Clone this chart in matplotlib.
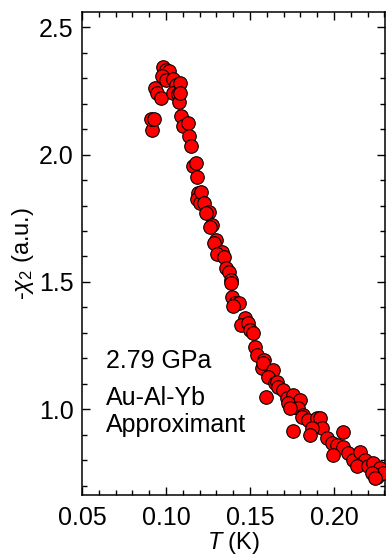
import numpy as np
import matplotlib
matplotlib.use('Agg')
import matplotlib.pyplot as plt
from matplotlib.ticker import MultipleLocator

plt.rcParams['font.family'] = ['Liberation Sans', 'DejaVu Sans']
plt.rcParams['mathtext.fontset'] = 'custom'
plt.rcParams['mathtext.rm'] = 'Liberation Sans'
plt.rcParams['mathtext.it'] = 'Liberation Sans:italic'

# temperature (K) and -chi2 (a.u.)
T = [0.0917, 0.0911, 0.0929, 0.0935, 0.0946, 0.0970, 0.0982, 0.1000, 0.1018,
     0.0976, 0.1000, 0.1042, 0.1060, 0.1042, 0.1071, 0.1077, 0.1083, 0.1083,
     0.1089, 0.1101, 0.1131, 0.1137, 0.1149, 0.1161, 0.1179, 0.1185, 0.1190,
     0.1185, 0.1202, 0.1208, 0.1226, 0.1256, 0.1238, 0.1274, 0.1262, 0.1298,
     0.1286, 0.1333, 0.1304, 0.1345, 0.1357, 0.1375, 0.1387, 0.1387, 0.1393,
     0.1411, 0.1435, 0.1399, 0.1470, 0.1446, 0.1488, 0.1500, 0.1518, 0.1530,
     0.1542, 0.1583, 0.1571, 0.1577, 0.1637, 0.1607, 0.1595, 0.1649, 0.1661,
     0.1667, 0.1696, 0.1720, 0.1756, 0.1798, 0.1726, 0.1786, 0.1738, 0.1815,
     0.1810, 0.1845, 0.1899, 0.1917, 0.1929, 0.1869, 0.1857, 0.1756, 0.2054,
     0.1958, 0.1988, 0.2018, 0.2054, 0.1994, 0.2083, 0.2113, 0.2155, 0.2173,
     0.2185, 0.2137, 0.2202, 0.2232, 0.2274, 0.2256, 0.2292, 0.2226, 0.2244]
chi2 = [2.096, 2.139, 2.139, 2.261, 2.241, 2.222, 2.343, 2.331, 2.327,
        2.308, 2.292, 2.296, 2.273, 2.241, 2.237, 2.206, 2.280, 2.241,
        2.151, 2.112, 2.124, 2.073, 2.033, 1.955, 1.967, 1.912, 1.849,
        1.825, 1.810, 1.853, 1.810, 1.775, 1.771, 1.724, 1.716, 1.665,
        1.653, 1.618, 1.610, 1.598, 1.555, 1.539, 1.508, 1.496, 1.441,
        1.418, 1.418, 1.406, 1.359, 1.331, 1.339, 1.312, 1.300, 1.245,
        1.214, 1.194, 1.163, 1.182, 1.155, 1.127, 1.049, 1.104, 1.108,
        1.088, 1.076, 1.045, 1.057, 1.037, 1.025, 1.006, 1.006, 0.978,
        0.971, 0.959, 0.967, 0.967, 0.927, 0.927, 0.900, 0.916, 0.912,
        0.888, 0.869, 0.861, 0.853, 0.822, 0.829, 0.802, 0.833, 0.794,
        0.802, 0.775, 0.775, 0.790, 0.771, 0.735, 0.751, 0.751, 0.731]

fig = plt.figure(figsize=(3.86, 5.55), dpi=100)
ax = fig.add_axes([0.2124, 0.1081, 0.785, 0.8703])

ax.scatter(T, chi2, s=95, c='#ff0000', edgecolors='black', linewidths=0.8, zorder=3)

ax.set_xlim(0.05, 0.2304)
ax.set_ylim(0.663, 2.56)
ax.xaxis.set_major_locator(MultipleLocator(0.05))
ax.xaxis.set_minor_locator(MultipleLocator(0.01))
ax.yaxis.set_major_locator(MultipleLocator(0.5))
ax.yaxis.set_minor_locator(MultipleLocator(0.1))
ax.xaxis.set_major_formatter(plt.FormatStrFormatter('%.2f'))
ax.yaxis.set_major_formatter(plt.FormatStrFormatter('%.1f'))
ax.tick_params(which='both', direction='in', top=True, right=True, width=1, labelsize=18)
ax.tick_params(axis='x', which='major', length=6, pad=8)
ax.tick_params(axis='y', which='major', length=6, pad=6)
ax.tick_params(which='minor', length=3.5)
for s in ax.spines.values():
    s.set_linewidth(1.1)

ax.set_xlabel(r'$T$ (K)', fontsize=17, labelpad=0)
ax.set_ylabel(r'-$\chi_2$ (a.u.)', fontsize=17, labelpad=2)

ax.text(0.0643, 1.163, '2.79 GPa', fontsize=18, va='baseline')
ax.text(0.0643, 1.018, 'Au-Al-Yb', fontsize=18, va='baseline')
ax.text(0.0643, 0.912, 'Approximant', fontsize=18, va='baseline')

fig.savefig('out.png', dpi=100)
